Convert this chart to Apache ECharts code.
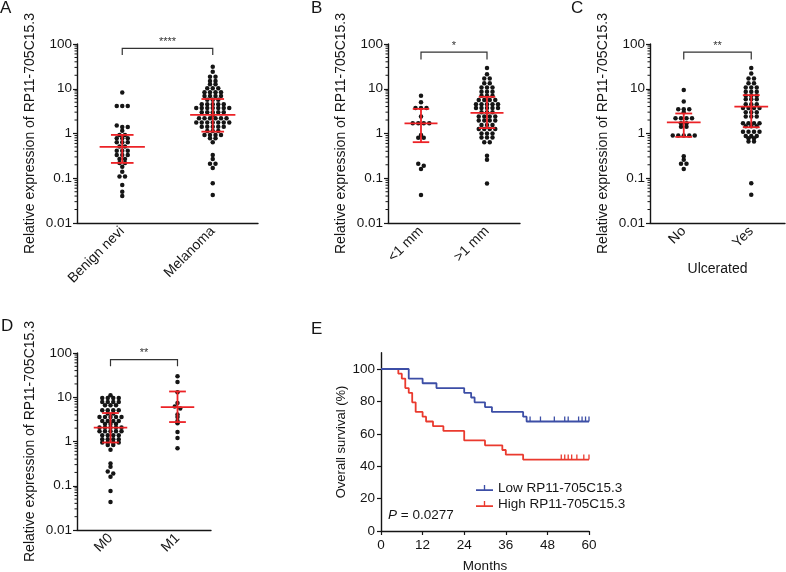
<!DOCTYPE html>
<html><head><meta charset="utf-8">
<script src="https://cdn.jsdelivr.net/npm/echarts@6/dist/echarts.min.js"></script>
<style>html,body{margin:0;padding:0;background:#fff}#c{width:786px;height:572px}</style>
</head><body><div id="c"></div>
<script>
// ---------------- DATA ----------------
const yTickLabels = ['0.01', '0.1', '1', '10', '100'];
const logDecades = [0.01, 0.1, 1, 10];
const minorMultipliers = [2, 3, 4, 5, 6, 7, 8, 9];
const yTitle = 'Relative expression of RP11-705C15.3';

const catsA = ['Benign nevi', 'Melanoma'];
const catsB = ['<1 mm', '>1 mm'];
const catsC = ['No', 'Yes'];
const catsD = ['M0', 'M1'];

// values
const benignNevi = [8.2, 4.1, 4.1, 4.1, 1.5, 1.4, 1.4, 1.15, 0.93, 0.93, 0.78, 0.78, 0.78, 0.64, 0.64, 0.64,
  0.51, 0.51, 0.41, 0.41, 0.41, 0.33, 0.33, 0.33, 0.27, 0.27, 0.22, 0.22, 0.18, 0.14, 0.11, 0.11, 0.071, 0.05, 0.04];
const melanoma = [31, 24, 18.6, 18.6, 14.9, 14.9, 12.6, 12.6, 10.2, 10.2, 10.2, 8.3, 8.3, 8.3, 8.3,
  6.9, 6.9, 6.9, 6.9, 5.7, 5.7, 5.7, 4.5, 4.5, 4.5, 4.5, 4.5, 3.7, 3.7, 3.7, 3.7, 3.7, 3.7, 3.7,
  3.0, 3.0, 3.0, 3.0, 3.0, 2.6, 2.2, 2.2, 2.2, 2.2, 2.2, 2.2, 1.75, 1.75, 1.75, 1.75, 1.75, 1.75, 1.75,
  1.42, 1.42, 1.42, 1.42, 1.42, 1.14, 1.14, 1.14, 0.93, 0.93, 0.93, 0.93, 0.78, 0.78, 0.64,
  0.33, 0.27, 0.21, 0.21, 0.17, 0.077, 0.042];

const thinLt1 = [7.0, 5.0, 3.7, 3.7, 3.7, 2.4, 1.7, 1.7, 1.7, 1.7, 0.93, 0.8, 0.8, 0.21, 0.19, 0.16, 0.042];
const thickGt1 = [29, 21, 17, 17, 13.3, 13.3, 10.6, 10.6, 10.6, 8.6, 8.6, 8.6, 7.0, 7.0, 7.0, 5.6, 5.6, 5.6, 5.6,
  4.5, 4.5, 4.5, 4.5, 4.5, 3.7, 3.7, 3.7, 3.7, 3.7, 3.0, 3.0, 3.0, 2.4, 2.4, 2.4, 2.4, 1.94, 1.94, 1.94, 1.94,
  1.55, 1.55, 1.55, 1.26, 1.26, 1.26, 1.26, 1.0, 1.0, 1.0, 0.81, 0.81, 0.81, 0.64, 0.64, 0.32, 0.26, 0.076];

const notUlcerated = [9.4, 5.2, 3.5, 3.5, 3.5, 3.0, 2.2, 2.2, 2.2, 2.2, 1.7, 1.7, 1.42, 1.42,
  0.9, 0.9, 0.9, 0.9, 0.9, 0.31, 0.26, 0.21, 0.21, 0.16];
const ulcerated = [29, 22, 17, 17, 13.3, 13.3, 10.6, 10.6, 10.6, 8.6, 8.6, 8.6, 7.0, 7.0, 7.0, 5.8, 5.8, 5.8,
  4.5, 4.5, 4.5, 3.7, 3.7, 3.7, 3.7, 3.0, 3.0, 3.0, 2.4, 2.4, 2.4, 1.7, 1.7, 1.7, 1.7, 1.45, 1.45, 1.45,
  1.1, 1.1, 1.1, 1.1, 0.88, 0.88, 0.88, 0.78, 0.78, 0.66, 0.66, 0.077, 0.043];

const m0 = [11.1, 9.6, 9.6, 9.6, 9.6, 7.8, 7.8, 7.8, 7.8, 6.6, 6.6, 6.6, 5.1, 5.1, 5.1, 5.1, 4.3, 4.3,
  3.6, 3.6, 3.6, 3.6, 3.6, 2.9, 2.9, 2.9, 2.9, 2.5, 2.5, 2.5, 2.07, 2.07, 2.07, 2.07, 2.07,
  1.7, 1.7, 1.7, 1.7, 1.7, 1.39, 1.39, 1.39, 1.39, 1.13, 1.13, 1.13, 1.13, 0.95, 0.95, 0.95, 0.95,
  0.83, 0.83, 0.65, 0.32, 0.27, 0.21, 0.19, 0.16, 0.076, 0.043];
const m1 = [30, 22, 13, 7.4, 6.2, 5.6, 4.1, 3.6, 2.9, 2.6, 1.65, 1.2, 0.7];

// median and interquartile range (red bars)
const medianA = [0.5, 2.6],  q1A = [0.22, 1.1],  q3A = [0.93, 5.9];
const medianB = [1.68, 2.9], q1B = [0.64, 1.32], q3B = [3.55, 6.6];
const medianC = [1.78, 4.0], q1C = [0.84, 1.38], q3C = [2.8, 7.2];
const medianD = [2.05, 6.0], q1D = [0.95, 2.75], q3D = [4.4, 13.5];

// significance brackets
const sigLabels = ['****', '*', '**', '**'];
const sigTop = [80, 66, 66, 71];
const sigBottom = [57, 45, 45, 50];

// Kaplan-Meier
const survTicks = [0, 20, 40, 60, 80, 100];
const monthTicks = [0, 12, 24, 36, 48, 60];
const lowName = 'Low RP11-705C15.3';
const highName = 'High RP11-705C15.3';
const lowTimes = [0, 8, 12, 16, 24, 26, 27, 30, 32, 41, 42, 60];
const lowSurv = [100, 94.1, 91.2, 88.2, 85.3, 82.4, 79.4, 76.5, 73.5, 70.6, 67.6, 67.6];
const lowCensor = [43, 46, 50, 53, 54, 57, 58, 59, 60];
const highTimes = [0, 5, 6, 7, 8, 9, 10, 12, 13, 15, 18, 24, 30, 35, 36, 41, 60];
const highSurv = [100, 97.1, 94.1, 88.2, 85.3, 79.4, 73.5, 70.6, 67.6, 64.7, 61.8, 55.9, 52.9, 50.0, 47.1, 44.1, 44.1];
const highCensor = [52, 53, 54, 55, 56.5, 58.5, 60];
const pText = '{i|P} = 0.0277';

// ---------------- CHART ----------------
const FONT = '"Liberation Sans", Arial, Helvetica, sans-serif';
const INK = '#151515';
const RED = '#ec2226';
const BLUE = '#3c4ea6';
const KMRED = '#ea3a2e';

const panels = [
  { grid: { left: 77, top: 44, width: 181, height: 179 }, cats: catsA, groups: [benignNevi, melanoma], med: medianA, lo: q1A, hi: q3A, xName: '' },
  { grid: { left: 388, top: 44, width: 132, height: 179 }, cats: catsB, groups: [thinLt1, thickGt1], med: medianB, lo: q1B, hi: q3B, xName: '' },
  { grid: { left: 650, top: 44, width: 135, height: 179 }, cats: catsC, groups: [notUlcerated, ulcerated], med: medianC, lo: q1C, hi: q3C, xName: 'Ulcerated' },
  { grid: { left: 77, top: 353, width: 134, height: 177 }, cats: catsD, groups: [m0, m1], med: medianD, lo: q1D, hi: q3D, xName: '' }
];
const minorVals = logDecades.flatMap(b => minorMultipliers.map(m => m * b));

const chart = echarts.init(document.getElementById('c'), null, { renderer: 'canvas' });

const axisLine = { show: true, onZero: false, lineStyle: { color: INK, width: 1.4 } };
const grids = [], xAxes = [], yAxes = [], series = [];

panels.forEach((p, i) => {
  grids.push(Object.assign({ containLabel: false, outerBoundsMode: 'none' }, p.grid));
  xAxes.push({
    type: 'category', gridIndex: i, data: p.cats, boundaryGap: true,
    axisLine, axisTick: { alignWithLabel: true, length: 4, lineStyle: { color: INK, width: 1.2 } },
    axisLabel: { rotate: 45, fontSize: 14, fontFamily: FONT, color: INK, margin: 6 },
    splitLine: { show: false },
    name: p.xName, nameLocation: 'middle', nameGap: 39,
    nameTextStyle: { fontSize: 14, fontFamily: FONT, color: INK }
  });
  xAxes.push({ type: 'value', gridIndex: i, min: -0.5, max: 1.5, show: false, axisLine: { onZero: false } });
  yAxes.push({
    type: 'log', logBase: 10, gridIndex: i, min: 0.01, max: 100,
    axisLine, axisTick: { show: true, length: 4, lineStyle: { color: INK, width: 1.2 } },
    axisLabel: {
      fontSize: 13.5, fontFamily: FONT, color: INK, margin: 5,
      formatter: v => yTickLabels[Math.round(Math.log10(v)) + 2]
    },
    splitLine: { show: false }, minorTick: { show: false },
    name: yTitle, nameLocation: 'middle', nameGap: 40,
    nameTextStyle: { fontSize: 14, fontFamily: FONT, color: INK }
  });
  const xi = 2 * i + 1;
  series.push({ id: 'dots' + i, type: 'scatter', xAxisIndex: xi, yAxisIndex: i, data: [],
    symbol: 'circle', symbolSize: 4.5, itemStyle: { color: INK, opacity: 1 }, silent: true, z: 2 });
  series.push({
    type: 'custom', xAxisIndex: xi, yAxisIndex: i, z: 5, silent: true,
    data: p.cats.map((c, k) => [k, p.lo[k], p.med[k], p.hi[k]]),
    renderItem: (params, api) => {
      const x = api.value(0), lo = api.value(1), md = api.value(2), hi = api.value(3);
      const a = api.coord([x - 0.25, md]), b = api.coord([x + 0.25, md]);
      const cl = api.coord([x - 0.125, lo]), cr = api.coord([x + 0.125, lo]);
      const hl = api.coord([x - 0.125, hi]), hr = api.coord([x + 0.125, hi]);
      const st = { stroke: RED, lineWidth: 1.8 };
      return { type: 'group', children: [
        { type: 'line', shape: { x1: a[0], y1: a[1], x2: b[0], y2: b[1] }, style: st },
        { type: 'line', shape: { x1: (cl[0] + cr[0]) / 2, y1: cl[1], x2: (hl[0] + hr[0]) / 2, y2: hl[1] }, style: st },
        { type: 'line', shape: { x1: cl[0], y1: cl[1], x2: cr[0], y2: cr[1] }, style: st },
        { type: 'line', shape: { x1: hl[0], y1: hl[1], x2: hr[0], y2: hr[1] }, style: st }
      ]};
    }
  });
  series.push({
    type: 'custom', xAxisIndex: xi, yAxisIndex: i, z: 5, silent: true,
    data: [[0, 1, sigBottom[i], sigTop[i]]],
    renderItem: (params, api) => {
      const x1 = api.value(0), x2 = api.value(1), b = api.value(2), t = api.value(3);
      const p1 = api.coord([x1, b]), p2 = api.coord([x1, t]), p3 = api.coord([x2, t]), p4 = api.coord([x2, b]);
      return { type: 'group', children: [
        { type: 'polyline', shape: { points: [p1, p2, p3, p4] }, style: { stroke: '#333', lineWidth: 1.2, fill: null } },
        { type: 'text', style: { x: (p2[0] + p3[0]) / 2, y: p2[1] - 1, text: sigLabels[i], align: 'center',
          verticalAlign: 'bottom', fill: '#333', font: '11px ' + FONT } }
      ]};
    }
  });
  series.push({
    type: 'custom', xAxisIndex: xi, yAxisIndex: i, z: 5, silent: true,
    data: minorVals.map(v => [0, v]),
    renderItem: (params, api) => {
      const y = api.coord([0, api.value(1)])[1];
      const x0 = params.coordSys.x;
      return { type: 'line', shape: { x1: x0 - 2.5, y1: y, x2: x0, y2: y }, style: { stroke: INK, lineWidth: 1 } };
    }
  });
});

// Panel E
grids.push({ left: 381, top: 352.8, width: 208, height: 178.2, containLabel: false, outerBoundsMode: 'none' });
xAxes.push({
  type: 'value', gridIndex: 4, min: 0, max: 60, interval: 12,
  axisLine, axisTick: { show: true, length: 4, customValues: monthTicks, lineStyle: { color: INK, width: 1.2 } },
  axisLabel: { fontSize: 13.5, fontFamily: FONT, color: INK, margin: 7, customValues: monthTicks },
  splitLine: { show: false },
  name: 'Months', nameLocation: 'middle', nameGap: 28,
  nameTextStyle: { fontSize: 13.5, fontFamily: FONT, color: INK }
});
yAxes.push({
  type: 'value', gridIndex: 4, min: 0, max: 110, interval: 20,
  axisLine, axisTick: { show: true, length: 4, customValues: survTicks, lineStyle: { color: INK, width: 1.2 } },
  axisLabel: { fontSize: 13.5, fontFamily: FONT, color: INK, margin: 6, customValues: survTicks },
  splitLine: { show: false },
  name: 'Overall survival (%)', nameLocation: 'middle', nameGap: 33,
  nameTextStyle: { fontSize: 13, fontFamily: FONT, color: INK }
});

function survAt(times, surv, t) {
  let s = surv[0];
  for (let k = 0; k < times.length; k++) if (times[k] <= t) s = surv[k];
  return s;
}
const kmLine = (name, times, surv, color, z) => ({
  name, type: 'line', step: 'end', xAxisIndex: 8, yAxisIndex: 4, z,
  data: times.map((t, k) => [t, surv[k]]), showSymbol: false, symbol: 'none',
  lineStyle: { color, width: 1.8 }, itemStyle: { color }, silent: true, animation: false
});
const censor = (times, surv, cens, color, z) => ({
  type: 'scatter', xAxisIndex: 8, yAxisIndex: 4, z, silent: true,
  data: cens.map(t => [t, survAt(times, surv, t)]),
  symbol: 'rect', symbolSize: [1.3, 5], symbolOffset: [0, -2.5], itemStyle: { color, opacity: 1 }
});
series.push(kmLine(highName, highTimes, highSurv, KMRED, 3));
series.push(censor(highTimes, highSurv, highCensor, KMRED, 3));
series.push(kmLine(lowName, lowTimes, lowSurv, BLUE, 4));
series.push(censor(lowTimes, lowSurv, lowCensor, BLUE, 4));

const letterStyle = { fontSize: 17, fontWeight: 'normal', fontFamily: FONT, color: INK };
const option = {
  animation: false,
  backgroundColor: '#fff',
  textStyle: { fontFamily: FONT },
  title: [
    { text: 'A', left: 0, top: 0, padding: 0, textStyle: letterStyle },
    { text: 'B', left: 311, top: 0, padding: 0, textStyle: letterStyle },
    { text: 'C', left: 571, top: 0, padding: 0, textStyle: letterStyle },
    { text: 'D', left: 1, top: 318, padding: 0, textStyle: letterStyle },
    { text: 'E', left: 311, top: 321, padding: 0, textStyle: letterStyle }
  ],
  legend: {
    data: [lowName, highName], orient: 'vertical', left: 476, top: 481,
    itemWidth: 17, itemHeight: 7, itemGap: 2, padding: 0,
    icon: 'path://M0,5h20v2h-20z M9.2,0h1.6v6h-1.6z',
    textStyle: { fontSize: 13.5, fontFamily: FONT, color: INK }, selectedMode: false
  },
  graphic: [{
    type: 'text', left: 388, top: 508,
    style: { text: pText, font: '13.5px ' + FONT, fill: INK,
      rich: { i: { fontStyle: 'italic', fontSize: 13.5, fontFamily: FONT, fill: INK } } }
  }],
  grid: grids, xAxis: xAxes, yAxis: yAxes, series
};
chart.setOption(option);

// Prism-style row layout of the dots, computed in pixel space through the chart's own scales
function dotRows(i, center, values, d, tol) {
  const finder = { xAxisIndex: 2 * i + 1, yAxisIndex: i };
  const cpx = chart.convertToPixel(finder, [center, 1])[0];
  const pts = values.map(v => ({ v, py: chart.convertToPixel(finder, [center, v])[1] }))
    .sort((a, b) => a.py - b.py);
  const rows = [];
  pts.forEach(p => {
    const r = rows[rows.length - 1];
    if (r && p.py - r[0].py <= tol) r.push(p); else rows.push([p]);
  });
  const out = [];
  rows.forEach(row => {
    const n = row.length;
    row.forEach((p, k) => {
      const off = (k - (n - 1) / 2) * d;
      out.push([chart.convertFromPixel(finder, [cpx + off, p.py])[0], p.v]);
    });
  });
  return out;
}
const upd = [];
panels.forEach((p, i) => {
  const data = [];
  p.groups.forEach((g, k) => dotRows(i, k, g, 5.5, 2.0).forEach(pt => data.push(pt)));
  upd.push({ id: 'dots' + i, data });
});
chart.setOption({ series: upd });
</script>
</body></html>
